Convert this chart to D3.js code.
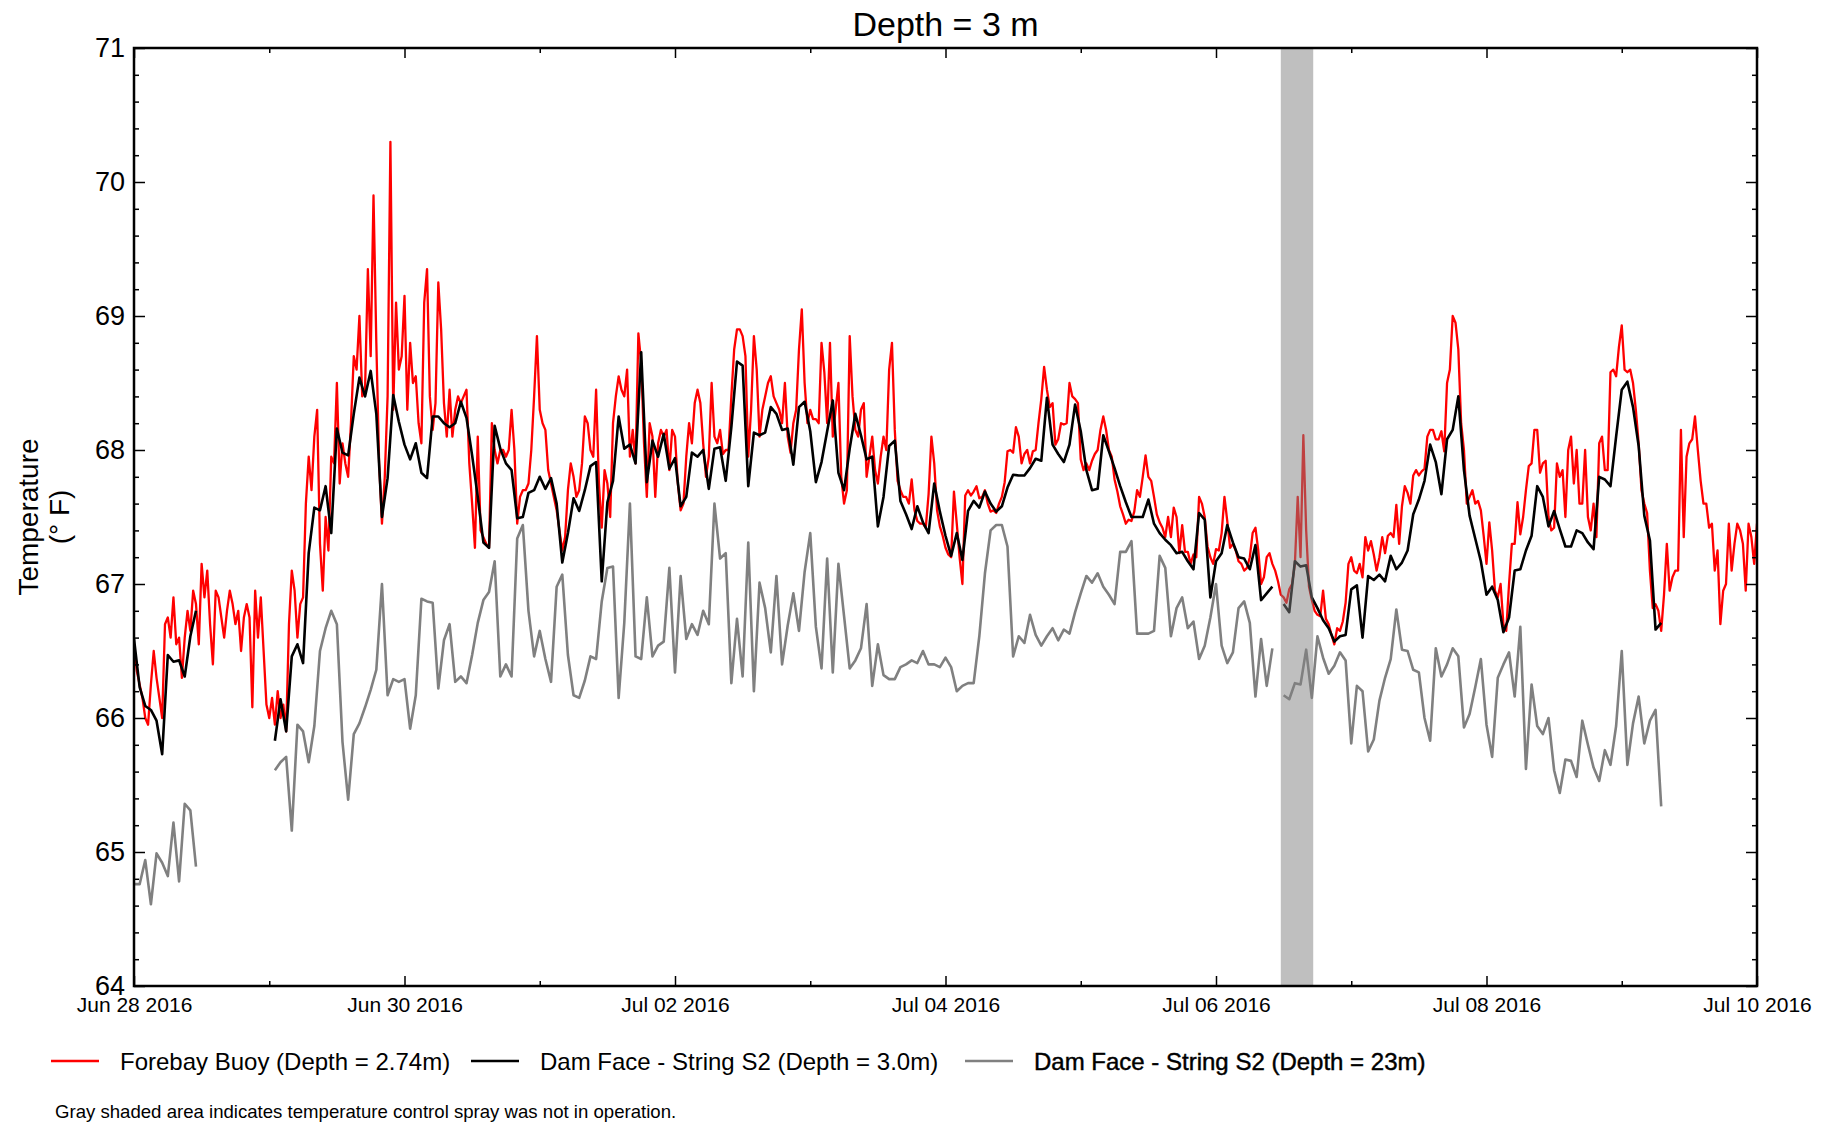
<!DOCTYPE html>
<html><head><meta charset="utf-8">
<script src="https://cdn.jsdelivr.net/npm/d3@7"></script>
<style>
body{margin:0;background:#fff}
svg{display:block}
text{font-family:"Liberation Sans",Arial,Helvetica,sans-serif;fill:#000}
</style>
</head><body>
<svg id="chart" width="1832" height="1125"></svg>
<script>
// ---------------- text ----------------
const titleText = "Depth = 3 m";
const yLabelLines = ["Temperature", "(° F)"];
const footnoteText = "Gray shaded area indicates temperature control spray was not in operation.";
const legendLabels = ["Forebay Buoy (Depth = 2.74m)", "Dam Face - String S2 (Depth = 3.0m)", "Dam Face - String S2 (Depth = 23m)"];
const seriesColors = ["#ff0000", "#000000", "#808080"];

// ---------------- axes ----------------
const xDomain = ["2016-06-28T00:00:00Z", "2016-07-10T00:00:00Z"];
const xMajorTicks = ["2016-06-28", "2016-06-30", "2016-07-02", "2016-07-04", "2016-07-06", "2016-07-08", "2016-07-10"];
const xMajorLabels = ["Jun 28 2016", "Jun 30 2016", "Jul 02 2016", "Jul 04 2016", "Jul 06 2016", "Jul 08 2016", "Jul 10 2016"];
const xMinorTicks = ["2016-06-29", "2016-07-01", "2016-07-03", "2016-07-05", "2016-07-07", "2016-07-09"];
const yDomain = [64, 71];
const yMajorTicks = [64, 65, 66, 67, 68, 69, 70, 71];
const yMinorStep = 0.2;

// gray shaded period (spray not in operation)
const shadeSpan = ["2016-07-06T11:30:00Z", "2016-07-06T17:15:00Z"];

// ---------------- data ----------------
// Forebay buoy: one value every 30 minutes from Jun 28 00:00
const forebayStart = "2016-06-28T00:00:00Z";
const forebayStepMin = 30;
const forebay_jun28 = [66.55,66.35,66.25,66.15,66.0,65.95,66.25,66.5,66.3,66.15,66.0,66.7,66.75,66.6,66.9,66.55,66.6,66.3,66.6,66.8,66.65,66.95,66.85,66.55,67.15,66.9,67.1,66.7,66.4,66.95,66.9,66.75,66.6,66.8,66.95,66.85,66.7,66.8,66.5,66.75,66.85,66.75,66.08,66.95,66.6,66.9,66.5,66.1,
  66.0,66.15,65.95,66.2,66.0,66.1,65.9,66.7,67.1,66.95,66.6,66.85,66.9,67.6,67.95,67.7,68.1,68.3,67.3,66.95,67.5,67.25,67.95,67.9,68.5,67.75,68.05,67.9,67.8,68.2,68.7,68.6,69.0,68.4,68.45,69.35,68.7,69.9,68.8,67.9,67.45,67.8,68.4,70.3,68.3,69.1,68.6,68.7,69.15];
const forebay_jun30 = [68.3,68.8,68.5,68.55,68.2,68.05,69.1,69.35,68.4,68.15,68.35,69.25,68.9,68.35,68.1,68.45,68.1,68.3,68.4,68.35,68.4,68.45,67.9,67.6,67.27,68.1,67.4,67.35,67.3,67.27,68.2,68.0,67.9,68.0,68.0,67.95,68.0,68.3,68.0,67.45,67.65,67.7,67.7,67.75,68.0,68.4,68.85,68.3,
  68.2,68.15,67.85,67.75,67.65,67.55,67.4,67.25,67.35,67.7,67.9,67.8,67.65,67.7,67.9,68.25,68.2,68.0,67.95,68.45,67.75,67.42,67.85,67.75,67.5,68.2,68.4,68.55,68.45,68.4,68.6,67.95,68.15,67.9,68.87,68.65,68.05,67.65,68.2,68.1,67.65,68.05,68.15,68.1,68.15,67.85,68.15,68.1];
const forebay_jul02 = [67.75,67.55,67.6,67.95,68.2,68.05,68.35,68.45,68.35,68.05,67.8,67.95,68.5,68.1,68.05,68.15,67.97,68.0,68.0,68.4,68.75,68.9,68.9,68.85,68.7,67.95,68.3,68.85,68.6,68.1,68.3,68.4,68.5,68.55,68.4,68.35,68.3,68.2,68.5,68.1,67.98,68.2,68.3,68.75,69.05,68.5,68.2,68.3,
  68.23,68.23,68.2,68.8,68.58,68.2,68.8,68.1,68.3,68.5,67.8,67.6,67.7,68.85,68.4,68.15,68.1,68.3,68.35,67.8,67.95,68.1,67.85,67.75,67.95,68.1,68.0,68.6,68.8,68.15,67.77,67.7,67.65,67.65,67.6,67.78,67.55,67.47,67.45,67.45,67.42,67.67,68.1,67.9,67.55,67.43,67.36,67.27];
const forebay_jul04 = [67.22,67.2,67.69,67.45,67.2,67.0,67.66,67.7,67.66,67.69,67.73,67.64,67.65,67.7,67.6,67.54,67.55,67.53,67.6,67.65,67.76,67.99,68.0,67.98,68.17,68.1,67.9,67.97,68.0,67.9,67.99,68.0,68.2,68.38,68.62,68.45,68.32,68.35,68.04,68.08,68.2,68.19,68.2,68.5,68.4,68.38,68.35,67.93,
  67.85,67.9,67.85,67.92,67.97,68.0,68.15,68.25,68.15,68.0,67.95,67.78,67.69,67.58,67.52,67.45,67.48,67.47,67.54,67.7,67.65,67.8,67.96,67.8,67.77,67.65,67.52,67.46,67.42,67.35,67.5,67.35,67.57,67.5,67.23,67.44,67.24,67.24,67.15,67.22,67.2,67.65,67.6,67.5,67.28,67.2,67.15,67.26];
const forebay_jul06 = [67.25,67.38,67.65,67.47,67.27,67.3,67.25,67.17,67.15,67.1,67.12,67.2,67.38,67.42,67.25,67.0,67.05,67.2,67.23,67.15,67.1,67.02,66.92,66.9,66.86,66.96,67.0,67.15,67.65,67.2,68.11,67.4,66.98,66.88,66.8,66.77,66.76,66.95,66.74,66.7,66.62,66.55,66.67,66.65,66.72,66.86,67.15,67.2,
  67.1,67.08,67.15,67.05,67.35,67.25,67.32,67.22,67.1,67.2,67.35,67.23,67.36,67.38,67.35,67.59,67.3,67.58,67.73,67.68,67.6,67.81,67.85,67.81,67.84,67.86,68.1,68.15,68.15,68.08,68.08,68.14,67.99,68.5,68.6,69.0,68.95,68.75,68.2,68.0,67.6,67.65,67.7,67.6,67.62,67.55,67.36,67.15];
const forebay_jul08 = [67.46,67.25,66.95,66.9,67.0,66.7,66.65,67.0,67.3,67.3,67.61,67.37,67.5,67.7,67.88,67.9,68.15,68.15,67.83,67.9,67.92,67.5,67.4,67.42,67.9,67.8,67.85,67.5,68.0,68.1,67.75,68.0,67.6,67.6,68.0,67.5,67.4,67.6,67.35,68.05,68.1,67.85,67.85,68.58,68.6,68.55,68.77,68.93,
  68.6,68.58,68.6,68.5,68.3,68.05,67.7,67.6,67.53,67.1,66.82,66.85,66.8,66.65,66.92,67.3,66.95,67.05,67.1,67.1,68.15,67.35,67.95,68.05,68.08,68.25,68.0,67.77,67.6,67.6,67.42,67.45,67.1,67.25,66.7,66.95,67.0,67.45,67.1,67.3,67.45,67.4,67.3,66.95,67.45,67.35,67.15,67.45];

// Dam face string S2, hourly values; each segment = [start hour after Jun 28 00:00, values]
const dam3m_seg1 = [66.59,66.23,66.09,66.06,65.98,65.73,66.47,66.42,66.43,66.31,66.61,66.80];
const dam3m_seg2a = [65.83,66.14,65.90,66.46,66.55,66.41,67.23,67.57,67.55,67.73,67.38,68.16,67.98,67.96,68.27,68.54,68.40,68.59,68.27,67.50,67.79,68.41,68.21,68.04];
const dam3m_seg2b = [67.93,68.05,67.83,67.79,68.25,68.25,68.20,68.17,68.20,68.36,68.24,67.96,67.65,67.31,67.27,68.18,68.01,67.90,67.85,67.49,67.50,67.68,67.70,67.80,67.71,67.79,67.60,67.16,67.38,67.64,67.545,67.70,67.88,67.91,67.02,67.61,67.77,68.25,68.01,68.04,67.90,68.73,67.76,68.07,67.95,68.12,67.86,67.94];
const dam3m_seg2c = [67.58,67.65,67.98,67.95,68.00,67.71,68.01,68.02,67.77,68.17,68.66,68.63,67.73,68.13,68.11,68.13,68.32,68.27,68.15,68.16,67.89,68.32,68.36,68.14,67.76,67.91,68.14,68.37,67.83,67.70,68.01,68.27,68.11,67.93,67.95,67.43,67.65,68.03,68.07,67.62,67.52,67.41,67.58,67.46,67.38,67.75,67.54,67.36];
const dam3m_seg2d = [67.21,67.38,67.18,67.545,67.62,67.57,67.69,67.60,67.54,67.58,67.72,67.815,67.81,67.81,67.865,67.935,67.92,68.39,68.04,67.97,67.91,68.04,68.34,68.14,67.85,67.70,67.71,68.11,67.99,67.865,67.73,67.61,67.50,67.50,67.50,67.63,67.45,67.38,67.33,67.29,67.23,67.24,67.17,67.11,67.53,67.48,66.90,67.17];
const dam3m_seg2e = [67.23,67.44,67.31,67.20,67.19,67.11,67.29,66.88,66.93,66.98];
const dam3m_seg3a = [66.85,66.79,67.17,67.13,67.14,66.90,66.82,66.73,66.67,66.57,66.61,66.62,66.96,66.99,66.60,67.06,67.03,67.07,67.02,67.21,67.11,67.16,67.25,67.52,67.63,67.77,68.04,67.91,67.67,68.08,68.15,68.40,67.85,67.51,67.34,67.17,66.92];
const dam3m_seg3b = [66.98,66.88,66.64,66.75,67.10,67.11,67.25,67.36,67.73,67.65,67.43,67.545,67.41,67.28,67.28,67.40,67.38,67.31,67.26,67.80,67.78,67.73,68.10,68.45,68.51,68.32,68.03,67.51,67.325,66.66,66.71];

const dam23m_seg1 = [64.76,64.76,64.94,64.61,64.99,64.92,64.82,65.22,64.78,65.36,65.31,64.89];
const dam23m_seg2a = [65.61,65.67,65.71,65.16,65.95,65.90,65.67,65.94,66.50,66.67,66.80,66.70,65.82,65.39,65.88,65.96,66.08,66.21,66.36,67.00,66.17,66.29,66.27,66.29];
const dam23m_seg2b = [65.92,66.17,66.89,66.87,66.86,66.22,66.58,66.70,66.27,66.31,66.26,66.47,66.71,66.88,66.94,67.17,66.31,66.40,66.31,67.34,67.44,66.80,66.46,66.65,66.44,66.27,66.98,67.07,66.47,66.17,66.15,66.28,66.46,66.44,66.87,67.12,67.13,66.15,66.71,67.60,66.46,66.44,66.90,66.46,66.54,66.57,67.12,66.34];
const dam23m_seg2c = [67.06,66.59,66.70,66.62,66.80,66.70,67.60,67.19,67.23,66.26,66.74,66.31,67.31,66.20,67.01,66.82,66.49,67.06,66.40,66.69,66.93,66.65,67.09,67.38,66.68,66.37,67.19,66.34,67.15,66.76,66.37,66.43,66.52,66.85,66.24,66.55,66.32,66.29,66.29,66.38,66.40,66.43,66.41,66.50,66.40,66.40,66.38,66.45];
const dam23m_seg2d = [66.38,66.20,66.24,66.26,66.26,66.61,67.08,67.40,67.44,67.44,67.28,66.46,66.61,66.56,66.77,66.62,66.54,66.61,66.67,66.58,66.66,66.63,66.79,66.93,67.06,67.01,67.08,66.98,66.92,66.85,67.24,67.24,67.32,66.63,66.63,66.63,66.65,67.21,67.12,66.61,66.82,66.90,66.67,66.72,66.44,66.54,66.75,67.00];
const dam23m_seg2e = [66.54,66.41,66.49,66.82,66.87,66.71,66.16,66.59,66.24,66.52];
const dam23m_seg3a = [66.17,66.14,66.26,66.25,66.51,66.15,66.61,66.45,66.33,66.39,66.49,66.43,65.81,66.24,66.20,65.75,65.84,66.13,66.30,66.44,66.81,66.51,66.50,66.36,66.34,66.00,65.83,66.52,66.31,66.40,66.52,66.46,65.93,66.03,66.23,66.44,65.95];
const dam23m_seg3b = [65.71,66.30,66.40,66.49,66.16,66.68,65.62,66.25,65.94,65.88,66.00,65.61,65.44,65.69,65.68,65.56,65.98,65.80,65.63,65.53,65.76,65.65,65.94,66.50,65.65,65.96,66.16,65.81,65.98,66.06,65.34];

const hourlyStart = "2016-06-28T00:00:00Z";
const dam3mSegments = [
  [0, [dam3m_seg1]],
  [25, [dam3m_seg2a, dam3m_seg2b, dam3m_seg2c, dam3m_seg2d, dam3m_seg2e]],
  [204, [dam3m_seg3a, dam3m_seg3b]]
];
const dam23mSegments = [
  [0, [dam23m_seg1]],
  [25, [dam23m_seg2a, dam23m_seg2b, dam23m_seg2c, dam23m_seg2d, dam23m_seg2e]],
  [204, [dam23m_seg3a, dam23m_seg3b]]
];

// ---------------- build ----------------
const HOUR = 3600e3;
const forebayValues = [].concat(forebay_jun28, forebay_jun30, forebay_jul02, forebay_jul04, forebay_jul06, forebay_jul08);
const t0f = Date.parse(forebayStart);
const forebay = [forebayValues.map((v, i) => ({t: new Date(t0f + i * forebayStepMin * 60e3), v}))];
const t0h = Date.parse(hourlyStart);
function buildSegments(segs) {
  return segs.map(([start, parts]) => [].concat(...parts).map((v, i) => ({t: new Date(t0h + (start + i) * HOUR), v})));
}
const dam3m = buildSegments(dam3mSegments);
const dam23m = buildSegments(dam23mSegments);

const W = 1832, H = 1125;
const plot = {left: 134, right: 1757, top: 48, bottom: 986};
const svg = d3.select("#chart");
svg.append("rect").attr("width", W).attr("height", H).attr("fill", "#fff");

const x = d3.scaleUtc().domain(xDomain.map(d => new Date(d))).range([plot.left, plot.right]);
const y = d3.scaleLinear().domain(yDomain).range([plot.bottom, plot.top]);

svg.append("clipPath").attr("id", "clip").append("rect")
  .attr("x", plot.left).attr("y", plot.top).attr("width", plot.right - plot.left).attr("height", plot.bottom - plot.top);

const line = d3.line().x(d => x(d.t)).y(d => y(d.v));
const gLines = svg.append("g").attr("clip-path", "url(#clip)");
const seriesList = [forebay, dam3m, dam23m];
const widths = [2.3, 2.6, 2.6];
seriesList.forEach((segs, k) => {
  gLines.selectAll(null).data(segs).enter().append("path")
    .attr("d", line).attr("fill", "none")
    .attr("stroke", seriesColors[k]).attr("stroke-width", widths[k])
    .attr("stroke-linejoin", "round").attr("stroke-linecap", "butt");
});

// shaded period drawn on top (semi-transparent)
const s0 = x(new Date(shadeSpan[0])), s1 = x(new Date(shadeSpan[1]));
svg.append("rect").attr("x", s0).attr("y", plot.top).attr("width", s1 - s0).attr("height", plot.bottom - plot.top)
  .attr("fill", "#808080").attr("fill-opacity", 0.5);

// axes
const parseDay = d => new Date(d + "T00:00:00Z");
function styleAxis(g) {
  g.select(".domain").remove();
  g.selectAll(".tick line").attr("stroke", "#000").attr("stroke-width", 1.5);
}
const yMinor = d3.range(yDomain[0], yDomain[1] + 1e-9, yMinorStep).filter(v => Math.abs(v - Math.round(v)) > 1e-6);

svg.append("g").attr("transform", `translate(0,${plot.bottom})`)
  .call(d3.axisBottom(x).tickValues(xMajorTicks.map(parseDay)).tickSize(-10).tickPadding(11)
    .tickFormat((d, i) => xMajorLabels[i]))
  .call(styleAxis)
  .call(g => g.selectAll("text").attr("font-size", 21).attr("fill", "#000"));
svg.append("g").attr("transform", `translate(0,${plot.bottom})`)
  .call(d3.axisBottom(x).tickValues(xMinorTicks.map(parseDay)).tickSize(-5).tickFormat(""))
  .call(styleAxis);
svg.append("g").attr("transform", `translate(0,${plot.top})`)
  .call(d3.axisTop(x).tickValues(xMajorTicks.map(parseDay)).tickSize(-10).tickFormat(""))
  .call(styleAxis);
svg.append("g").attr("transform", `translate(0,${plot.top})`)
  .call(d3.axisTop(x).tickValues(xMinorTicks.map(parseDay)).tickSize(-5).tickFormat(""))
  .call(styleAxis);

svg.append("g").attr("transform", `translate(${plot.left},0)`)
  .call(d3.axisLeft(y).tickValues(yMajorTicks).tickSize(-11).tickPadding(9).tickFormat(d3.format("d")))
  .call(styleAxis)
  .call(g => g.selectAll("text").attr("font-size", 27).attr("fill", "#000"));
svg.append("g").attr("transform", `translate(${plot.left},0)`)
  .call(d3.axisLeft(y).tickValues(yMinor).tickSize(-5).tickFormat(""))
  .call(styleAxis);
svg.append("g").attr("transform", `translate(${plot.right},0)`)
  .call(d3.axisRight(y).tickValues(yMajorTicks).tickSize(-11).tickFormat(""))
  .call(styleAxis);
svg.append("g").attr("transform", `translate(${plot.right},0)`)
  .call(d3.axisRight(y).tickValues(yMinor).tickSize(-5).tickFormat(""))
  .call(styleAxis);

// frame
svg.append("rect").attr("x", plot.left).attr("y", plot.top)
  .attr("width", plot.right - plot.left).attr("height", plot.bottom - plot.top)
  .attr("fill", "none").attr("stroke", "#000").attr("stroke-width", 2.5);

// title
svg.append("text").attr("x", (plot.left + plot.right) / 2).attr("y", 36)
  .attr("text-anchor", "middle").attr("font-size", 34).text(titleText);

// y label
const yl = svg.append("text").attr("transform", `translate(0,${(plot.top + plot.bottom) / 2}) rotate(-90)`)
  .attr("text-anchor", "middle").attr("font-size", 28);
yl.append("tspan").attr("x", 0).attr("y", 38).text(yLabelLines[0]);
yl.append("tspan").attr("x", 0).attr("y", 69).text(yLabelLines[1]);

// legend
const legendX = [51, 471, 965];
const legendY = 1061;
legendLabels.forEach((lab, k) => {
  svg.append("line").attr("x1", legendX[k]).attr("x2", legendX[k] + 48)
    .attr("y1", legendY).attr("y2", legendY)
    .attr("stroke", seriesColors[k]).attr("stroke-width", widths[k]);
  const t = svg.append("text").attr("x", legendX[k] + 69).attr("y", legendY).attr("dy", "0.36em")
    .attr("font-size", 24).text(lab);
  if (k === 2) t.attr("stroke", "#000").attr("stroke-width", 0.45);
});

// footnote
svg.append("text").attr("x", 55).attr("y", 1118).attr("font-size", 18.6).text(footnoteText);
</script>
</body></html>
